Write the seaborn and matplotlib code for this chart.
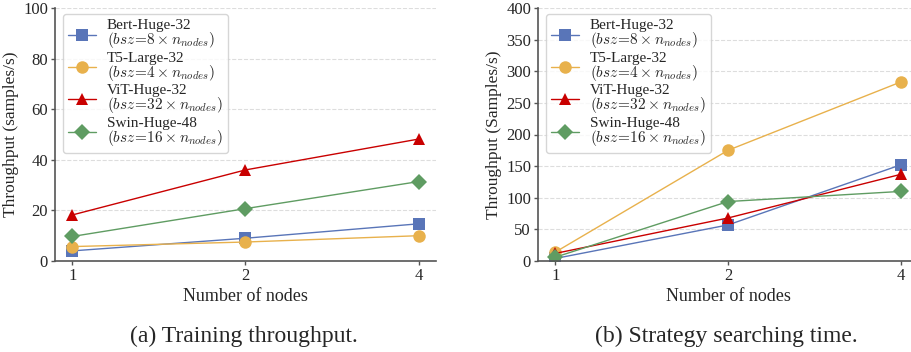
import pandas as pd
import matplotlib
matplotlib.use('Agg')
import matplotlib.pyplot as plt
import seaborn as sns

# Datos
nodes = ['1', '2', '4']
models = ['Bert-Huge-32', 'T5-Large-32', 'ViT-Huge-32', 'Swin-Huge-48']
bsz = ['8', '4', '32', '16']

train_bert = [4.0, 9.0, 14.7]
train_t5 = [5.7, 7.5, 10.0]
train_vit = [18.2, 36.0, 48.2]
train_swin = [9.7, 20.7, 31.4]

search_bert = [4.0, 57.0, 152.0]
search_t5 = [14.0, 175.0, 283.0]
search_vit = [12.0, 68.0, 137.0]
search_swin = [6.0, 94.0, 110.0]

colors = ['#5975B8', '#E8B14C', '#C90000', '#5F9C62']
markers = ['s', 'o', '^', 'D']
msizes = [8.5, 9, 9, 8.5]


def armar_df(series):
    filas = []
    for m, b, vals in zip(models, bsz, series):
        label = m + '\n' + r'$(bsz\!=\!' + b + r'\times n_{nodes})$'
        for n, v in zip(nodes, vals):
            filas.append({'nodes': n, 'val': v, 'model': label})
    return pd.DataFrame(filas)


df_train = armar_df([train_bert, train_t5, train_vit, train_swin])
df_search = armar_df([search_bert, search_t5, search_vit, search_swin])

sns.set_style('ticks')
plt.rcParams['font.family'] = ['Liberation Serif', 'DejaVu Serif']
plt.rcParams['mathtext.fontset'] = 'cm'

fig = plt.figure(figsize=(9.12, 3.52), dpi=100)
ax1 = fig.add_axes([55 / 912, 1 - 261 / 352, 381 / 912, 253 / 352])
ax2 = fig.add_axes([538 / 912, 1 - 261 / 352, 380 / 912, 253 / 352])


def dibujar(ax, df, ymax, ystep, ylabel):
    labels = df['model'].unique()
    for lab, c, mk, ms in zip(labels, colors, markers, msizes):
        sub = df[df['model'] == lab]
        sns.lineplot(data=sub, x='nodes', y='val', ax=ax, color=c, marker=mk,
                     markersize=ms, markeredgewidth=0, linewidth=1.0, label=lab)
    ax.set_xlim(-0.1, 2.1)
    ax.set_ylim(0, ymax)
    ax.set_yticks(range(0, ymax + 1, ystep))
    ax.yaxis.grid(True, linestyle='--', color='#dddddd', linewidth=0.8)
    ax.set_axisbelow(True)
    sns.despine(ax=ax)
    for s in ['left', 'bottom']:
        ax.spines[s].set_color('#555555')
        ax.spines[s].set_linewidth(1.2)
    ax.tick_params(labelsize=12, length=3, width=1, color='#555555', pad=2)
    ax.set_xlabel('Number of nodes', fontsize=13, labelpad=3)
    ax.set_ylabel(ylabel, fontsize=12.5, labelpad=3)
    leg = ax.legend(loc='upper left', fontsize=11, frameon=True, borderpad=0.35,
                    labelspacing=0.1, handlelength=1.8, handletextpad=0.7,
                    borderaxespad=0, edgecolor='#cccccc', fancybox=True,
                    bbox_to_anchor=(0.021, 0.976))
    for t in leg.get_texts():
        t.set_linespacing(0.85)


dibujar(ax1, df_train, 100, 20, 'Throughput (samples/s)')
dibujar(ax2, df_search, 400, 50, 'Throughput (Samples/s)')

fig.text(244 / 912, 1 - 336 / 352, '(a) Training throughput.', ha='center', va='center', fontsize=17)
fig.text(726 / 912, 1 - 336 / 352, '(b) Strategy searching time.', ha='center', va='center', fontsize=17)

fig.savefig('out.png', dpi=100)
